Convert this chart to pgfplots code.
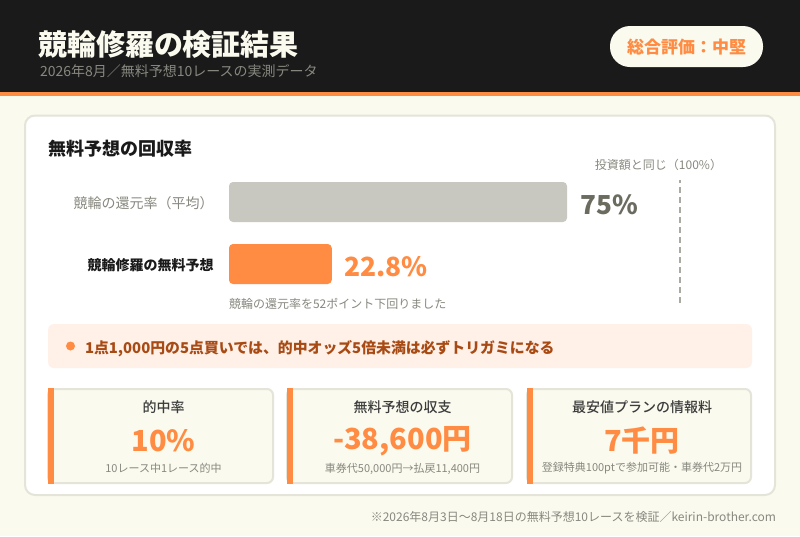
\documentclass[border=0pt]{standalone}
\usepackage{fontspec}
\setmainfont{Noto Sans CJK JP}
\newfontfamily\med{Noto Sans CJK JP Medium}
\usepackage{pgfplots}
\pgfplotsset{compat=1.18}
\definecolor{hdr}{HTML}{1A1A1A}
\definecolor{org}{HTML}{FF8C42}
\definecolor{paper}{HTML}{FAFAEE}
\definecolor{edge}{HTML}{E4E4D8}
\definecolor{barg}{HTML}{C8C8C0}
\definecolor{valg}{HTML}{6B6B60}
\definecolor{txtg}{HTML}{888880}
\definecolor{callbg}{HTML}{FFF0E8}
\definecolor{calltx}{HTML}{A84A14}
\definecolor{dashc}{HTML}{AAAAA2}
\newcommand\fs[1]{\fontsize{#1pt}{#1pt}\selectfont}
\tikzset{px/.style={x=0.75pt,y=-0.75pt},
  t/.style={inner sep=0pt,outer sep=0pt,anchor=base}}
\newcommand\kpi[5]{%
  \pgfmathsetmacro\cx{(#1+#2)/2+2.5}
  \draw[edge,fill=paper,line width=1.5pt,rounded corners=4.5pt] (#1,389) rectangle (#2-1,483);
  \fill[org] (#1,388) rectangle (#1+5.5,484);
  \node[t,anchor=center] at (\cx,407.5) {\fs{10.5}\med\color{hdr!85!white}#3};
  \node[t,anchor=center] at (\cx,441) {\fs{21.75}\bfseries\color{org}#4};
  \node[t,anchor=center] at (\cx,468.5) {\fs{8.25}\color{txtg}#5};
}
\begin{document}
\begin{tikzpicture}
\begin{scope}[px]
\path[use as bounding box] (0,0) rectangle (800,536);
\fill[paper] (0,0) rectangle (800,536);
\fill[hdr] (0,0) rectangle (800,92);
\fill[org] (0,92) rectangle (800,96);
\node[t,anchor=west] at (38,45) {\fs{21.75}\bfseries\color{paper}競輪修羅の検証結果};
\node[t,anchor=west] at (40,71) {\fs{10.5}\color{txtg}2026年8月／無料予想10レースの実測データ};
\fill[paper,rounded corners=15pt] (610,26) rectangle (763,67);
\node[t,anchor=center] at (686.5,47) {\fs{12.75}\bfseries\color{org}総合評価：中堅};
\draw[edge,fill=white,line width=1.5pt,rounded corners=7.5pt] (25,115.5) rectangle (775,495);
\node[t,anchor=west] at (48,148.5) {\fs{13.5}\bfseries\color{hdr}無料予想の回収率};
\node[t,anchor=center] at (658.5,164.5) {\fs{9}\color{txtg}投資額と同じ（100\%）};
\node[t,anchor=west] at (229,304) {\fs{9}\color{txtg}競輪の還元率を52ポイント下回りました};
\fill[callbg,rounded corners=4.5pt] (48,324) rectangle (752,368);
\fill[org] (70.5,346) circle[radius=4.5];
\node[t,anchor=west] at (85,348.5) {\fs{11.15}\bfseries\color{calltx}1点1,000円の5点買いでは、的中オッズ5倍未満は必ずトリガミになる};
\kpi{48}{274}{的中率}{10\%}{10レース中1レース的中}
\kpi{287}{513}{無料予想の収支}{-38,600円}{車券代50,000円→払戻11,400円}
\kpi{527}{752}{最安値プランの情報料}{7千円}{登録特典100ptで参加可能・車券代2万円}
\node[t,anchor=east] at (776,516.5) {\fs{9}\color{txtg}※2026年8月3日〜8月18日の無料予想10レースを検証／keirin-brother.com};
\end{scope}
\begin{axis}[
  at={(171.75pt,-227.25pt)},anchor=south west,
  scale only axis,width=338pt,height=92.25pt,
  xmin=0,xmax=100,ymin=-0.629,ymax=1.355,
  clip=false,
  axis line style={draw=none},
  tick style={draw=none},
  xtick=\empty,
  ytick={0,1},
  yticklabels={{\fs{10.5}\bfseries\color{hdr}競輪修羅の無料予想},{\fs{10.5}\color{txtg}競輪の還元率（平均）}},
  yticklabel style={inner sep=0pt,xshift=-11.25pt,yshift=-1pt},
]
\addplot[xbar,bar width=30pt,bar shift=0pt,fill=barg,draw=none,rounded corners=3pt,
  point meta=explicit symbolic,nodes near coords,
  nodes near coords style={anchor=west,inner sep=0pt,xshift=9.75pt,yshift=-2pt,text=valg,font=\fs{19.6}\bfseries}]
  coordinates {(75,1) [75\%]};
\addplot[xbar,bar width=30pt,bar shift=0pt,fill=org,draw=none,rounded corners=3pt,
  point meta=explicit symbolic,nodes near coords,
  nodes near coords style={anchor=west,inner sep=0pt,xshift=9pt,yshift=-2pt,text=org,font=\fs{19.8}\bfseries}]
  coordinates {(22.8,0) [22.8\%]};
\addplot[dashc,line width=1.5pt,dash pattern=on 4.5pt off 3pt,no marks]
  coordinates {(100,-0.629) (100,1.355)};
\end{axis}
\end{tikzpicture}
\end{document}
